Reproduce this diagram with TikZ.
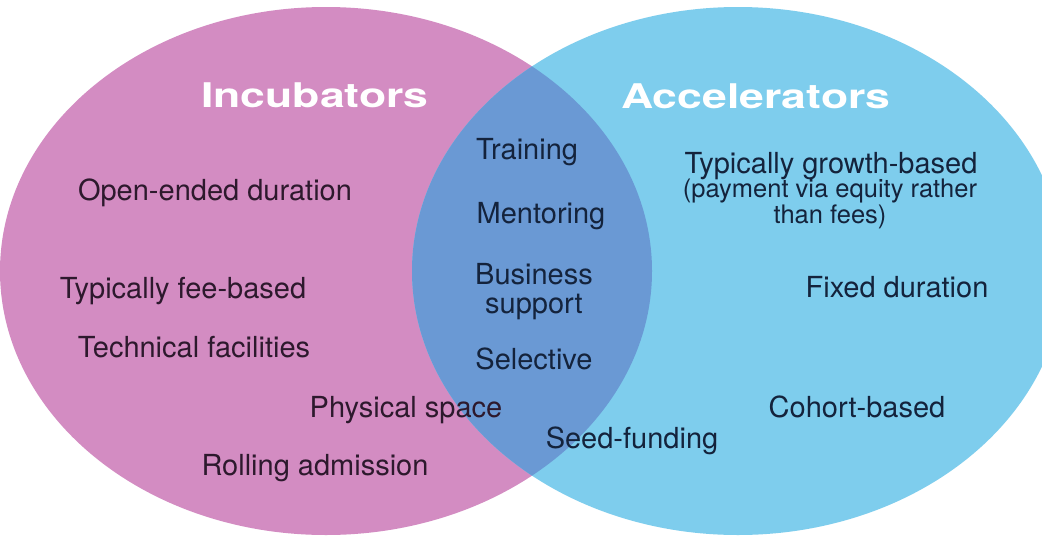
\documentclass[tikz,border=0pt]{standalone}
\usepackage{fontspec}
\setmainfont{TeX Gyre Heros}
\usepackage{graphicx}
\usepackage{xcolor}
\usepackage{tikz}
\usetikzlibrary{positioning}
\definecolor{incPink}{RGB}{211,140,194}
\definecolor{accBlue}{RGB}{126,205,237}
\definecolor{bothBlue}{RGB}{106,153,212}
\definecolor{incInk}{RGB}{45,25,45}
\definecolor{accInk}{RGB}{20,35,60}
\tikzset{
    item/.style={
        anchor=base,
        inner sep=0pt,
        font=\fontsize{29}{29}\selectfont
    },
    smallitem/.style={
        anchor=base,
        inner sep=0pt,
        align=center,
        font=\fontsize{25.5}{26}\selectfont
    },
    title/.style={
        anchor=base,
        inner sep=0pt,
        text=white,
        font=\fontsize{34}{34}\selectfont\bfseries
    }
}
\newcommand{\widetitle}[1]{\scalebox{1.31}[1]{#1}}

\begin{document}
\begin{tikzpicture}[x=1pt,y=-1pt]
    \useasboundingbox (0,0) rectangle (1042,536);
    \clip (0,0) rectangle (1042,536);
    \fill[white] (0,0) rectangle (1042,536);

    \fill[incPink] (326,271) ellipse [x radius=326pt, y radius=264pt];
    \fill[accBlue] (738,271) ellipse [x radius=326pt, y radius=264pt];
    \begin{scope}
        \clip (326,271) ellipse [x radius=326pt, y radius=264pt];
        \fill[bothBlue] (738,271) ellipse [x radius=326pt, y radius=264pt];
    \end{scope}

    \node[title] (incTitle) at (315,107) {\widetitle{Incubators}};
    \node[title] (accTitle) at (756,108) {\widetitle{Accelerators}};

    \node[item, text=incInk] (incOpen) at (215,200) {Open-ended duration};
    \node[item, text=incInk] (incFee) at (183,298) {Typically fee-based};
    \node[item, text=incInk] (incTech) at (194,357) {Technical facilities};
    \node[item, text=incInk] (incSpace) at (406,417) {Physical space};
    \node[item, text=incInk] (incRolling) at (315,475) {Rolling admission};

    \node[item, text=accInk] (bothTraining) at (527,159) {Training};
    \node[item, text=accInk] (bothMentoring) at (541,223) {Mentoring};
    \node[item, text=accInk, align=center] (bothBusiness) at (534,313) {Business\\support};
    \node[item, text=accInk] (bothSelective) at (534,369) {Selective};
    \node[item, text=accInk] (bothSeed) at (632,448) {Seed-funding};

    \node[item, text=accInk] (accGrowth) at (831,173) {Typically growth-based};
    \node[smallitem, text=accInk] (accPayment) at (830,223) {(payment via equity rather\\than fees)};
    \node[item, text=accInk] (accFixed) at (897,297) {Fixed duration};
    \node[item, text=accInk] (accCohort) at (857,417) {Cohort-based};
\end{tikzpicture}
\end{document}
